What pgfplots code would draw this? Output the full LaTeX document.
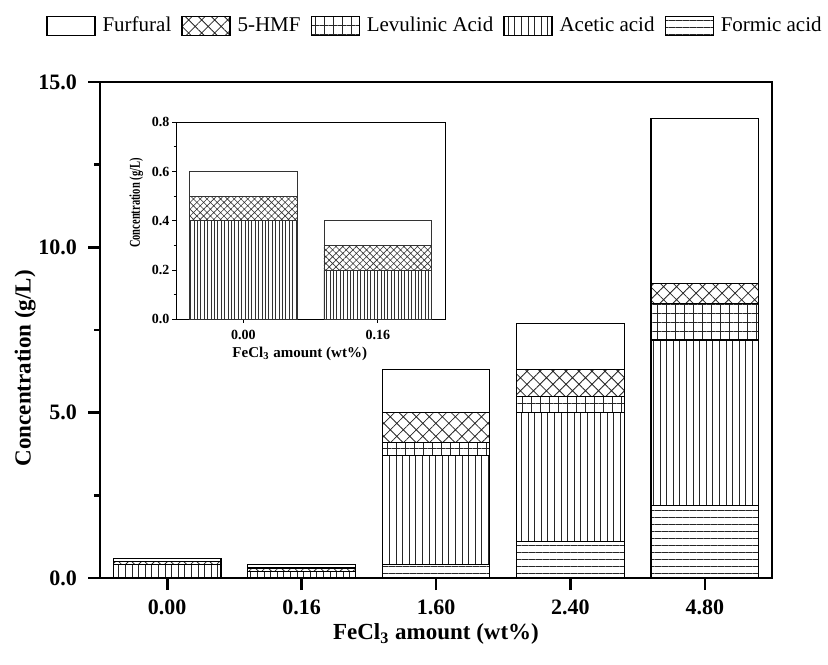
\documentclass[border=0pt]{standalone}
\usepackage{fontspec}
\setmainfont{Liberation Serif}
\usepackage{pgfplots}
\pgfplotsset{compat=1.18}
\usetikzlibrary{patterns.meta}

\begin{document}
\begin{tikzpicture}[x=1pt,y=1pt]
\useasboundingbox (0,0) rectangle (414,332);
\begin{axis}[
  at={(50pt,43pt)}, anchor=south west, scale only axis,
  width=336pt, height=248pt,
  ybar stacked, bar width=0.8,
  xmin=-0.5, xmax=4.5, ymin=0, ymax=15,
  xtick={0,1,2,3,4}, xticklabels={0.00,0.16,1.60,2.40,4.80},
  ytick={0,5,10,15}, yticklabels={0.0,5.0,10.0,15.0},
  minor ytick={2.5,7.5,12.5},
  tick pos=left, tick align=outside,
  major tick length=6pt, minor tick length=3pt,
  every tick/.style={black, line width=1.3pt},
  axis line style={line width=1.3pt},
  ticklabel style={font=\fontsize{11}{13}\selectfont\bfseries},
  yticklabel style={xshift=-2pt},
  xticklabel style={yshift=-1.5pt},
  xlabel={FeCl\textsubscript{3} amount (wt\%)},
  ylabel={Concentration (g/L)},
  xlabel style={yshift=2.5pt},
  ylabel style={at={(ticklabel cs:0.423)}, yshift=-5.5pt},
  label style={font=\fontsize{11.5}{13}\selectfont\bfseries},
  reverse legend,
  legend columns=5,
  legend style={at={(0.5,1)}, anchor=center, yshift=28pt, draw=none,
    font=\fontsize{10.5}{12}\selectfont, inner sep=0pt,
    /tikz/every odd column/.append style={column sep=1.5pt},
    /tikz/every even column/.append style={column sep=3pt}},
  legend image code/.code={\draw[#1,line width=0.6pt] (0pt,-4.75pt) rectangle (24pt,4.75pt);},
]
% Formic acid
\addplot[draw=black, line width=0.6pt, pattern={Lines[angle=0,distance=3.5pt,line width=0.4pt]}, pattern color=black!85]
  coordinates {(0,0) (1,0) (2,0.4) (3,1.1) (4,2.2)};
% Acetic acid
\addplot[draw=black, line width=0.6pt, pattern={Lines[angle=90,distance=3.3pt,line width=0.4pt]}, pattern color=black!85]
  coordinates {(0,0.4) (1,0.2) (2,3.3) (3,3.9) (4,5.0)};
% Levulinic acid
\addplot[draw=black, line width=0.6pt, pattern={Hatch[angle=0,distance=4.5pt,line width=0.4pt]}, pattern color=black!85]
  coordinates {(0,0) (1,0) (2,0.4) (3,0.5) (4,1.1)};
% 5-HMF
\addplot[draw=black, line width=0.6pt, pattern={Hatch[angle=45,distance=4.6pt,line width=0.4pt]}, pattern color=black!85]
  coordinates {(0,0.1) (1,0.1) (2,0.9) (3,0.8) (4,0.6)};
% Furfural
\addplot[draw=black, line width=0.6pt, fill=white]
  coordinates {(0,0.1) (1,0.1) (2,1.3) (3,1.4) (4,5.0)};
\legend{Formic acid, Acetic acid, Levulinic Acid, 5-HMF, Furfural}
\end{axis}

\begin{axis}[
  at={(88pt,172.35pt)}, anchor=south west, scale only axis,
  width=134.5pt, height=98.5pt,
  ybar stacked, bar width=0.8,
  xmin=-0.5, xmax=1.5, ymin=0, ymax=0.8,
  xtick={0,1}, xticklabels={0.00,0.16},
  ytick={0,0.2,0.4,0.6,0.8}, yticklabels={0.0,0.2,0.4,0.6,0.8},
  minor ytick={0.1,0.3,0.5,0.7},
  tick pos=left, tick align=outside,
  major tick length=1.8pt, minor tick length=1.2pt,
  every tick/.style={black, line width=0.5pt},
  axis line style={line width=0.5pt},
  ticklabel style={font=\fontsize{7}{8}\selectfont\bfseries},
  yticklabel style={xshift=2pt},
  xlabel={FeCl\textsubscript{3} amount (wt\%)},
  ylabel={\scalebox{0.7}[1]{Concentration (g/L)}},
  label style={font=\fontsize{7.5}{8.5}\selectfont\bfseries},
  xlabel style={at={(ticklabel cs:0.46)}, yshift=3pt},
  ylabel style={at={(ticklabel cs:0.59)}, yshift=-2.5pt},
]
\addplot[draw=black!80, line width=0.4pt, fill=white]
  coordinates {(0,0) (1,0)};
\addplot[draw=black!80, line width=0.4pt, pattern={Lines[angle=90,distance=1.7pt,line width=0.3pt]}, pattern color=black!80]
  coordinates {(0,0.4) (1,0.2)};
\addplot[draw=black!80, line width=0.4pt, fill=white]
  coordinates {(0,0) (1,0)};
\addplot[draw=black!80, line width=0.4pt, pattern={Hatch[angle=45,distance=2.4pt,line width=0.3pt]}, pattern color=black!80]
  coordinates {(0,0.1) (1,0.1)};
\addplot[draw=black!80, line width=0.4pt, fill=white]
  coordinates {(0,0.1) (1,0.1)};
\end{axis}
\end{tikzpicture}
\end{document}
